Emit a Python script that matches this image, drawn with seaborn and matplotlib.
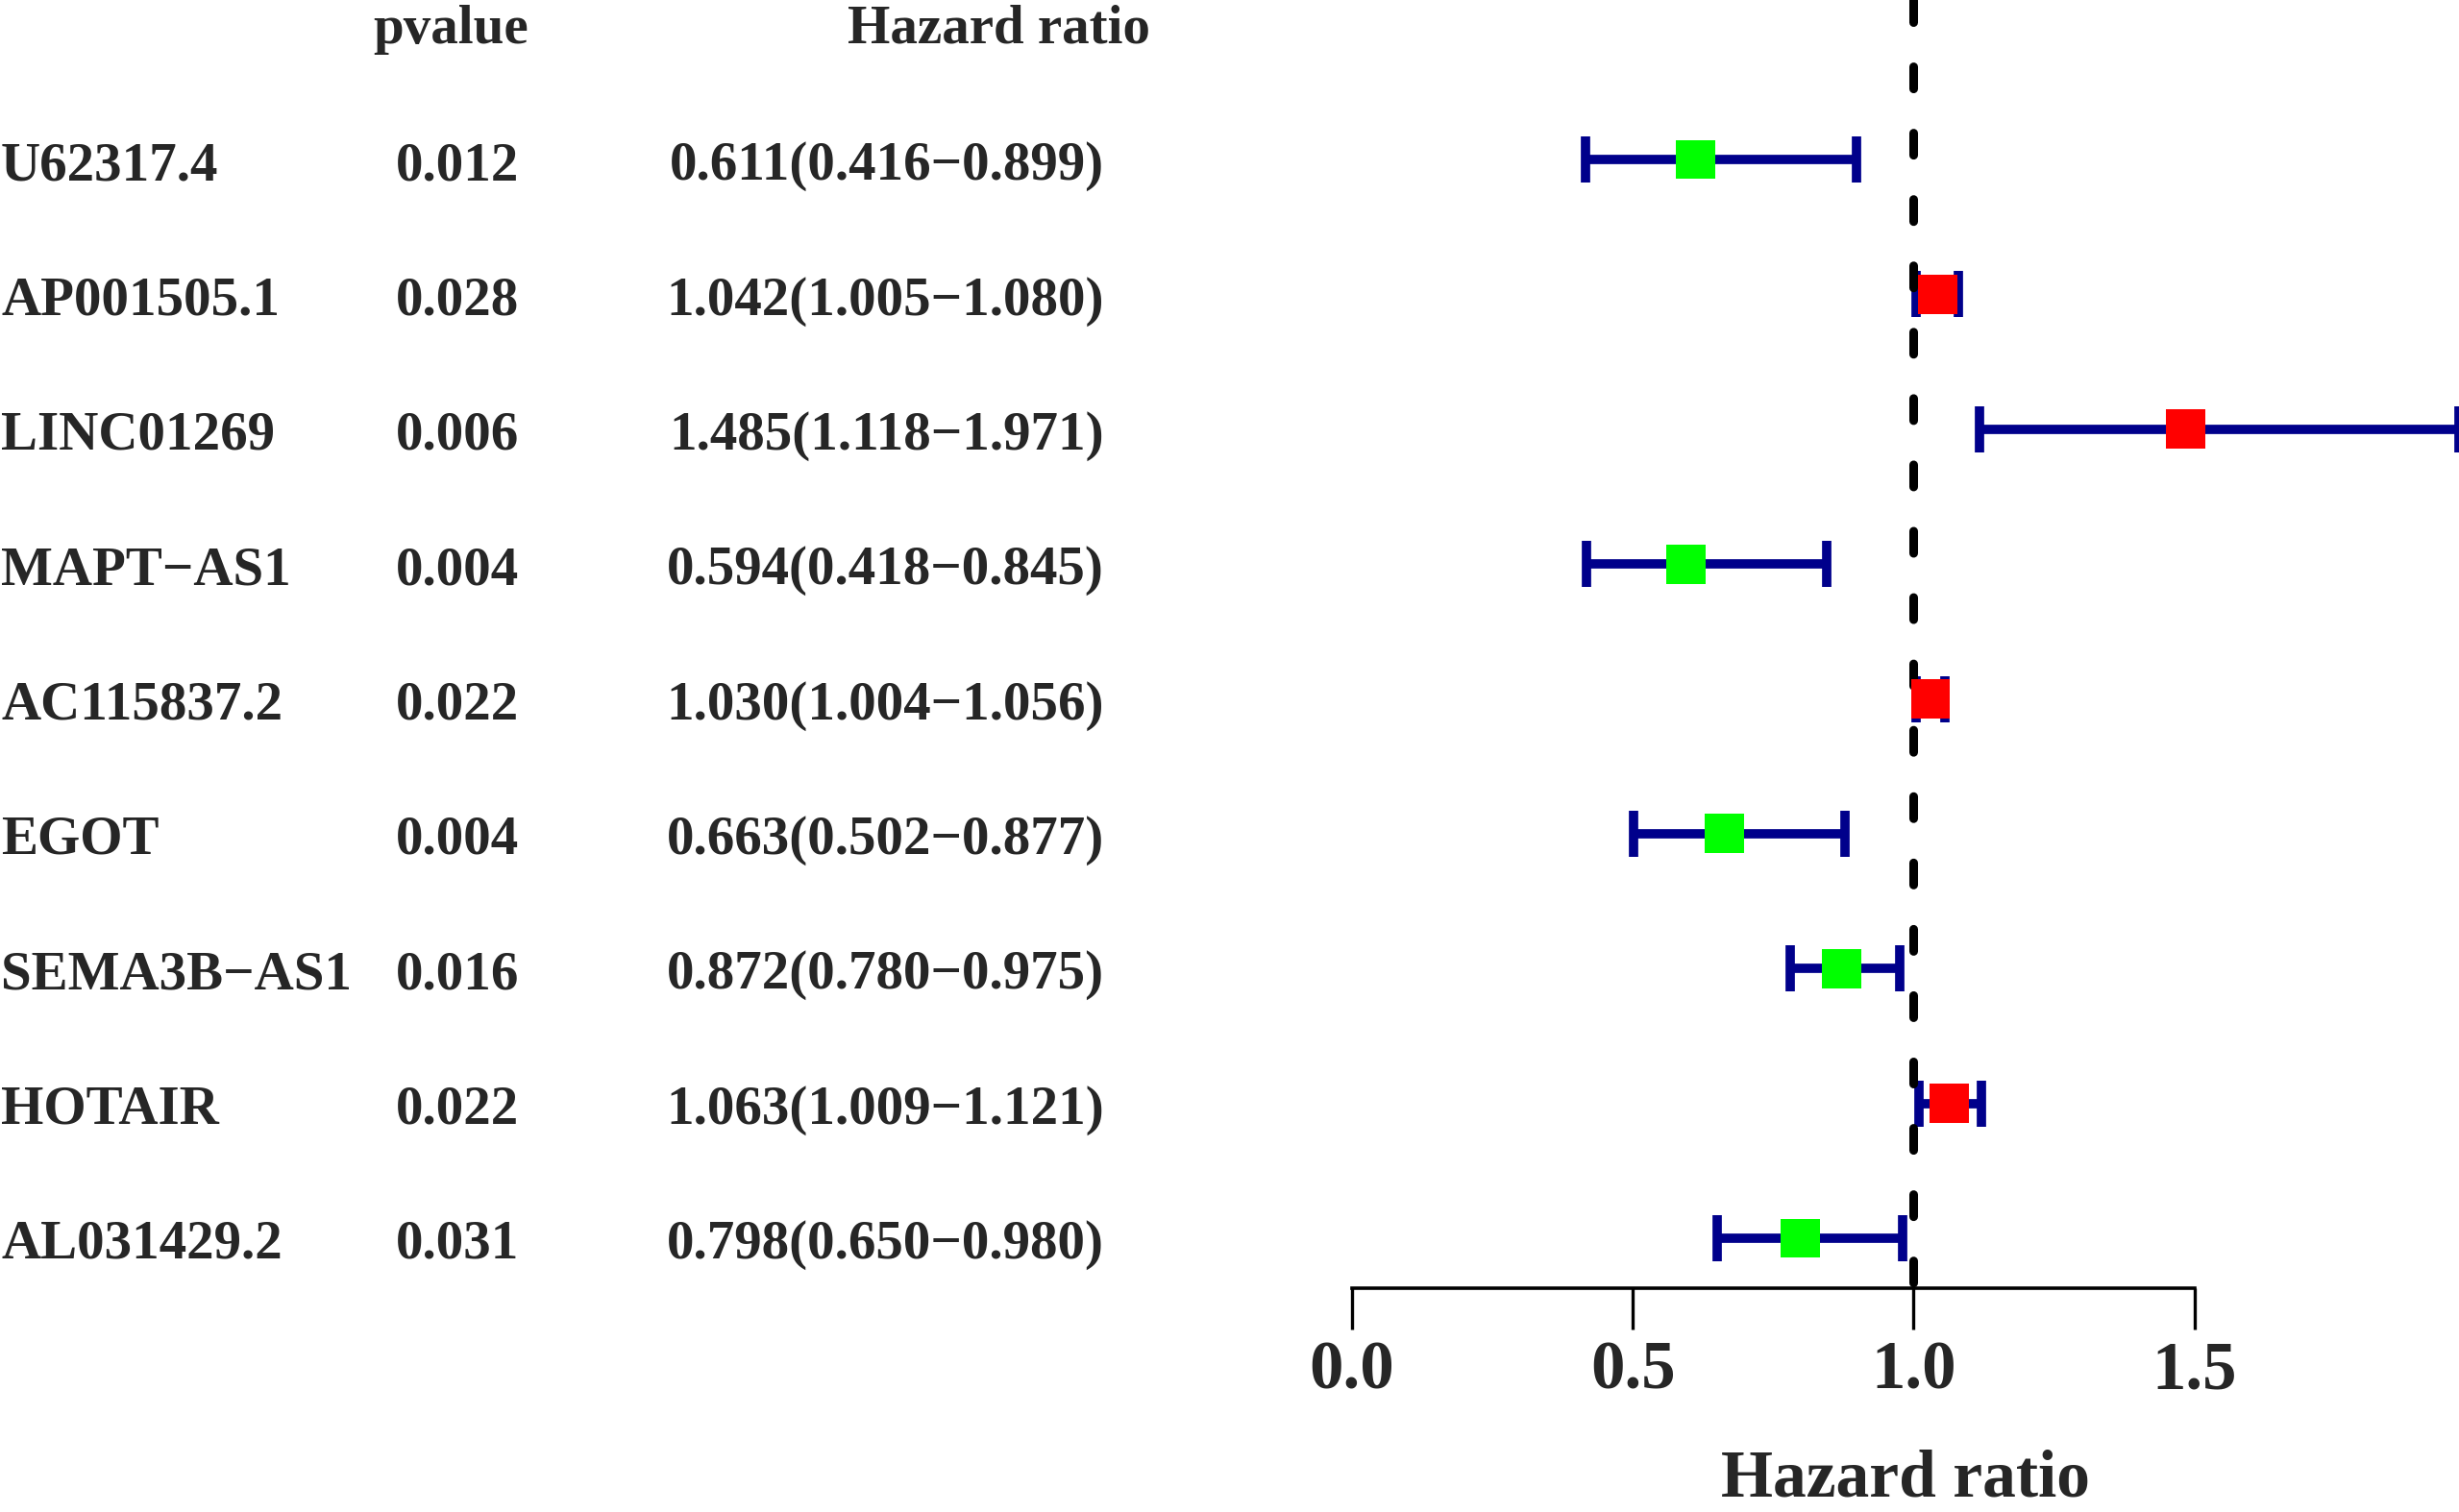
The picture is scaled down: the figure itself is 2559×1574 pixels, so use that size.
import numpy as np
import pandas as pd
import matplotlib
matplotlib.use("Agg")
import matplotlib.pyplot as plt
import seaborn as sns

# data
genes = ["U62317.4", "AP001505.1", "LINC01269", "MAPT\u2212AS1", "AC115837.2",
         "EGOT", "SEMA3B\u2212AS1", "HOTAIR", "AL031429.2"]
pvals = ["0.012", "0.028", "0.006", "0.004", "0.022", "0.004", "0.016", "0.022", "0.031"]
hr = [0.611, 1.042, 1.485, 0.594, 1.030, 0.663, 0.872, 1.063, 0.798]
hr_low = [0.416, 1.005, 1.118, 0.418, 1.004, 0.502, 0.780, 1.009, 0.650]
hr_high = [0.899, 1.080, 1.971, 0.845, 1.056, 0.877, 0.975, 1.121, 0.980]
x_ticks = [0.0, 0.5, 1.0, 1.5]

sns.set_style("white")
plt.rcParams['font.family'] = ['Liberation Serif', 'DejaVu Serif']
plt.rcParams['font.weight'] = 'bold'

n = len(genes)
df = pd.DataFrame({"gene": genes, "pvalue": pvals, "hr": hr,
                   "low": hr_low, "high": hr_high})
df["row"] = np.arange(n, 0, -1)
df["risk"] = np.where(df["hr"] > 1, "high", "low")
df["hr_text"] = [f"{h:.3f}({l:.3f}\u2212{u:.3f})" for h, l, u in zip(hr, hr_low, hr_high)]

W, H = 2559, 1574
fig = plt.figure(figsize=(W / 100, H / 100), dpi=100)

unit = 140.375  # pixels per row
y_top = n + 166 / unit
y_bot = 1 - (1341 - 1289) / unit
ax_h = 1341 / H
ax_b = 1 - ax_h
x0 = 1407 / W

# ---- left table ----
axt = fig.add_axes([0, ax_b, x0, ax_h])
axt.set_xlim(0, 1407)
axt.set_ylim(y_bot, y_top)
axt.axis("off")
fs = 41
off = 21 / unit
for _, r in df.iterrows():
    yb = r["row"] - off
    axt.text(1, yb, r["gene"], ha="left", va="baseline", fontsize=fs, fontweight="bold")
    axt.text(540, yb, r["pvalue"], ha="right", va="baseline", fontsize=fs, fontweight="bold")
    axt.text(1149, yb, r["hr_text"], ha="right", va="baseline", fontsize=fs, fontweight="bold")
axt.text(550, n + 1 - 19 / unit, "pvalue", ha="right", va="baseline", fontsize=fs, fontweight="bold")
axt.text(1197, n + 1 - 19 / unit, "Hazard ratio", ha="right", va="baseline", fontsize=fs, fontweight="bold")

# ---- forest plot ----
ax = fig.add_axes([x0, ax_b, 1 - x0, ax_h])
ax.set_xlim(0, max(hr_high))
ax.set_ylim(y_bot, y_top)

ax.errorbar(df["hr"], df["row"],
            xerr=[df["hr"] - df["low"], df["high"] - df["hr"]],
            fmt="none", ecolor="#00008B", elinewidth=7, capsize=17.5, capthick=7, zorder=2)
ax.plot([1, 1], [1, 0], transform=ax.get_xaxis_transform(), color="black",
        lw=6.5, linestyle=(0, (2.55, 5.1)), dash_capstyle="round", zorder=3)
sns.scatterplot(data=df, x="hr", y="row", hue="risk",
                palette={"high": "#FF0000", "low": "#00FF00"},
                marker="s", s=870, linewidth=0, legend=False, ax=ax, zorder=4)

for side in ["top", "right", "left"]:
    ax.spines[side].set_visible(False)
ax.spines["bottom"].set_bounds(0, 1.5)
ax.spines["bottom"].set_linewidth(2.6)
ax.spines["bottom"].set_color("black")
ax.set_yticks([])
ax.set_ylabel("")
ax.set_xticks(x_ticks)
ax.set_xticklabels([f"{v:.1f}" for v in x_ticks])
ax.tick_params(axis="x", direction="out", length=31, width=2.4, pad=8,
               labelsize=51, bottom=True, color="black")
for lab in ax.get_xticklabels():
    lab.set_fontweight("bold")
ax.set_xlabel("Hazard ratio", fontsize=50, fontweight="bold", va="baseline")
ax.xaxis.set_label_coords(0.5, -(1557 - 1341) / 1341)

fig.savefig("out.png", dpi=100)
